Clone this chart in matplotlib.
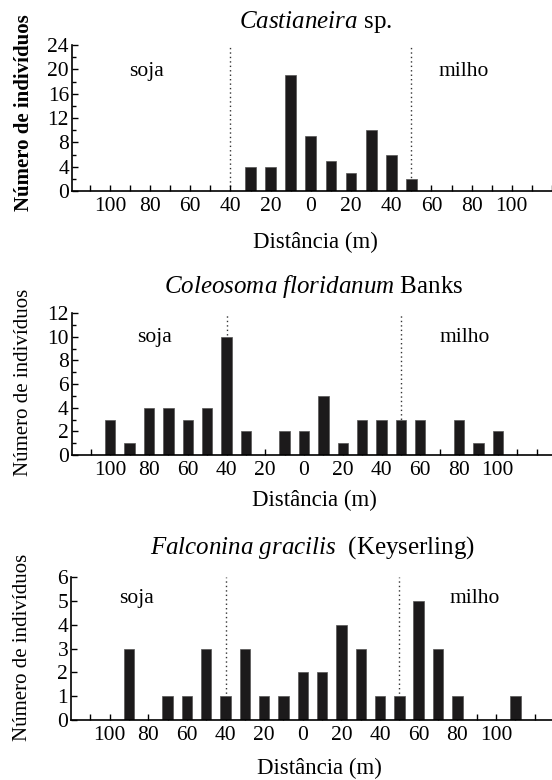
import numpy as np
import matplotlib
matplotlib.use('Agg')
import matplotlib.pyplot as plt
from matplotlib.ticker import MultipleLocator

plt.rcParams['font.family'] = ['Liberation Serif', 'DejaVu Serif']
plt.rcParams['mathtext.fontset'] = 'custom'
plt.rcParams['mathtext.rm'] = 'Liberation Serif'
plt.rcParams['mathtext.it'] = 'Liberation Serif:italic'

# distance classes (m), soja side negative, milho side positive
tick_pos = np.arange(-110, 121, 10)
label_pos = [-100, -80, -60, -40, -20, 0, 20, 40, 60, 80, 100]
label_txt = ['100', '80', '60', '40', '20', '0', '20', '40', '60', '80', '100']
borders = [-40, 50]

# Castianeira sp.
cast_x = [-30, -20, -10, 0, 10, 20, 30, 40, 50]
cast_n = [4, 4, 19, 9, 5, 3, 10, 6, 2]

# Coleosoma floridanum Banks
cole_x = [-100, -90, -80, -70, -60, -50, -40, -30, -10, 0, 10, 20, 30, 40, 50, 60, 80, 90, 100]
cole_n = [3, 1, 4, 4, 3, 4, 10, 2, 2, 2, 5, 1, 3, 3, 3, 3, 3, 1, 2]

# Falconina gracilis (Keyserling)
falc_x = [-90, -70, -60, -50, -40, -30, -20, -10, 0, 10, 20, 30, 40, 50, 60, 70, 80, 110]
falc_n = [3, 1, 1, 3, 1, 3, 1, 1, 2, 2, 4, 3, 1, 1, 5, 3, 1, 1]

W, H = 552, 780
fig = plt.figure(figsize=(W / 100, H / 100), dpi=100)


def px_axes(left, top, bottom):
    return fig.add_axes([left / W, 1 - bottom / H, (W - left) / W, (bottom - top) / H])


panels = [
    dict(ax=px_axes(71.7, 45, 191), x=cast_x, n=cast_n, xlim=(-119, 118), ymax=24, major=4, minor=2,
         title=r'$\it{Castianeira}$ sp.', ty=22, tx=316, bold=True,
         soja=(-82, 19.6), milho=(76, 19.6), xl=(0.507, -0.35), yl=(-0.100, 0.54)),
    dict(ax=px_axes(71.5, 313, 455), x=cole_x, n=cole_n, xlim=(-120, 128), ymax=12, major=2, minor=1,
         title=r'$\it{Coleosoma\ floridanum}$ Banks', ty=287, tx=314, bold=False,
         soja=(-77, 9.9), milho=(83, 9.9), xl=(0.506, -0.32), yl=(-0.100, 0.514)),
    dict(ax=px_axes(71.0, 577, 720), x=falc_x, n=falc_n, xlim=(-120, 129), ymax=6, major=1, minor=1,
         title=r'$\it{Falconina\ gracilis}$  (Keyserling)', ty=548, tx=313, bold=False,
         soja=(-86, 5.1), milho=(89, 5.1), xl=(0.516, -0.34), yl=(-0.100, 0.51)),
]

for p in panels:
    ax = p['ax']
    for b in borders:
        ax.plot([b, b], [0, p['ymax']], color='#333333', lw=1.0, ls=(0, (1, 2.2)), zorder=1)
    ax.bar(p['x'], p['n'], width=5.4, color='#1c1a1b', edgecolor='#555555', linewidth=0.5, zorder=2)
    ax.set_xlim(*p['xlim'])
    ax.set_ylim(0, p['ymax'])
    ax.spines['top'].set_visible(False)
    ax.spines['right'].set_visible(False)
    ax.spines['left'].set_linewidth(1.2)
    ax.spines['bottom'].set_linewidth(1.2)
    ax.set_xticks(tick_pos, minor=True)
    ax.set_xticks(label_pos)
    ax.set_xticklabels(label_txt)
    ax.yaxis.set_major_locator(MultipleLocator(p['major']))
    ax.yaxis.set_minor_locator(MultipleLocator(p['minor']))
    ax.tick_params(axis='both', which='both', direction='in', width=1.0, labelsize=15.5)
    ax.tick_params(axis='x', which='both', length=4, pad=4)
    ax.tick_params(axis='y', which='major', length=4, pad=2)
    ax.tick_params(axis='y', which='minor', length=3)
    ax.set_xlabel('Distância (m)', fontsize=16.5, va='center')
    ax.xaxis.set_label_coords(*p['xl'])
    ax.set_ylabel('Número de indivíduos', fontsize=15, va='center',
                  fontweight='bold' if p['bold'] else 'normal')
    ax.yaxis.set_label_coords(*p['yl'])
    ax.text(p['soja'][0], p['soja'][1], 'soja', fontsize=15.5, ha='center', va='center')
    ax.text(p['milho'][0], p['milho'][1], 'milho', fontsize=15.5, ha='center', va='center')
    fig.text(p['tx'] / W, 1 - p['ty'] / H, p['title'], fontsize=18, ha='center', va='center')

plt.savefig('out.png', dpi=100)
